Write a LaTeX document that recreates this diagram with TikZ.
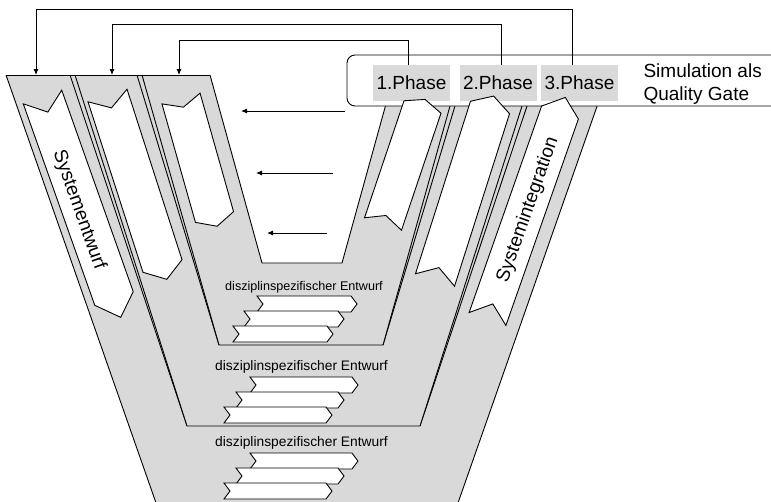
\documentclass[tikz,border=0pt]{standalone}
\usepackage{fontspec}
\setmainfont{Liberation Sans}
\usetikzlibrary{calc,arrows.meta}
\definecolor{vgray}{RGB}{217,217,217}
% white band arrow from tail (#1) to head (#2): half width, notch depth, tip length
\newcommand\bandarrow[5]{%
  \draw[arrowbox] ($(#1)!#3!90:(#2)$) -- ($(#1)!#4!(#2)$) -- ($(#1)!#3!-90:(#2)$)
    -- ($(#2)!#3!90:(#1)$) -- ($(#2)!-#5!(#1)$) -- ($(#2)!#3!-90:(#1)$) -- cycle;}
% horizontal chevron: left x, top y, width
\newcommand\flatchev[3]{%
  \draw[arrowbox] (#1,#2) -- ++(#3,0) -- ++(6,8) -- ++(-6,8) -- ++(-#3,0) -- ++(6,-8) -- cycle;}
\begin{document}
\begin{tikzpicture}[x=1pt,y=-1pt,
  vline/.style={line width=0.9pt, line join=miter},
  arrowbox/.style={fill=white, draw=black, line width=0.9pt, line join=miter},
  fb/.style={line width=0.9pt, -{Latex[length=6pt,width=5pt]}},
  bigtext/.style={font=\fontsize{19}{23}\selectfont},
  phase/.style={fill=vgray, minimum width=77pt, minimum height=36pt, inner sep=0pt, bigtext},
  dtext/.style={font=\fontsize{13.8}{16}\selectfont},
  dtextsmall/.style={font=\fontsize{12.6}{15}\selectfont}]
\useasboundingbox (0,0) rectangle (771,501);
\clip (0,0) rectangle (771,501);

% third (outer) V
\fill[vgray] (6,75) -- (162,520) -- (452,520) -- (608,75) -- cycle;
\draw[vline] (6,75) -- (162,520) -- (452,520) -- (608,75);
\draw[vline] (70,75) -- (187,426);
\draw[vline] (537.4,75) -- (420,426);
% second V
\fill[vgray] (75,75) -- (187,426) -- (420,426) -- (531.9,75) -- cycle;
\draw[vline] (75,75) -- (187,426) -- (420,426) -- (531.9,75);
\draw[vline] (137,75) -- (219,345);
\draw[vline] (464.3,75) -- (383,345);
% first (inner) V with its open centre
\fill[vgray] (142,75) -- (219,345) -- (383,345) -- (458.7,75) -- cycle;
\draw[vline] (142,75) -- (219,345) -- (383,345) -- (458.7,75);
\fill[white] (210,75) -- (262,263) -- (342,263) -- (394,75) -- cycle;
\draw[vline] (210,75) -- (262,263) -- (342,263) -- (394,75);
\draw[vline] (6,75) -- (210,75);

% arrows in the open centre
\coordinate (h1s) at (345,111); \coordinate (h1e) at (241,111);
\coordinate (h2s) at (333,173); \coordinate (h2e) at (256,173);
\coordinate (h3s) at (327,233); \coordinate (h3e) at (267,233);
\draw[fb] (h1s) -- (h1e);
\draw[fb] (h2s) -- (h2e);
\draw[fb] (h3s) -- (h3e);

% design arrows on the left arms
\coordinate (e1a) at (42.5,97);   \coordinate (e1b) at (114,298.5);
\coordinate (e2a) at (107.5,95.5); \coordinate (e2b) at (162.5,266);
\coordinate (e3a) at (181,98.5);  \coordinate (e3b) at (214.5,217);
\bandarrow{e1a}{e1b}{20.4pt}{16pt}{20pt}
\bandarrow{e2a}{e2b}{20.5pt}{13pt}{14pt}
\bandarrow{e3a}{e3b}{19.8pt}{9pt}{9.6pt}
\node[bigtext, rotate=-70.5] (entwurf) at (79,210) {Systementwurf};

% discipline-specific design steps
\node[dtextsmall] (d1) at (304,287) {disziplinspezifischer Entwurf};
\flatchev{257}{296}{94}
\flatchev{244}{311}{94}
\flatchev{233}{326}{94}
\node[dtext] (d2) at (301.5,367) {disziplinspezifischer Entwurf};
\flatchev{250}{377}{102}
\flatchev{236}{392}{102}
\flatchev{224}{407}{102}
\node[dtext] (d3) at (301.5,443) {disziplinspezifischer Entwurf};
\flatchev{250}{453}{102}
\flatchev{236}{468}{102}
\flatchev{224}{483}{102}

% quality gate bar
\draw[vline, fill=white, rounded corners=8pt] (347,55) rectangle (800,106);
\node[phase] (p1) at (411.5,83) {1.Phase};
\node[phase] (p2) at (498,83) {2.Phase};
\node[phase] (p3) at (579.5,83) {3.Phase};
\node[bigtext, align=left, anchor=west] (qg) at (640,84) {Simulation als\\Quality Gate};

% integration arrows on the right arms
\coordinate (i1a) at (383,224);   \coordinate (i1b) at (422.5,107);
\coordinate (i2a) at (435,280);   \coordinate (i2b) at (490,107.5);
\coordinate (i3a) at (487.5,319); \coordinate (i3b) at (560,112.5);
\bandarrow{i1a}{i1b}{19.5pt}{9pt}{8pt}
\bandarrow{i2a}{i2b}{20.5pt}{13pt}{12pt}
\bandarrow{i3a}{i3b}{19.5pt}{16pt}{16pt}
\node[bigtext, rotate=70.6] (integ) at (528,210) {Systemintegration};

% feedback from each phase to the start of its V
\coordinate (t1) at (179,75); \coordinate (k1) at (408,40);
\coordinate (t2) at (112,75); \coordinate (k2) at (501,24);
\coordinate (t3) at (36,75);  \coordinate (k3) at (572,9);
\draw[fb] (p1.north -| k1) -- (k1) -| (t1);
\draw[fb] (p2.north -| k2) -- (k2) -| (t2);
\draw[fb] (p3.north -| k3) -- (k3) -| (t3);
\end{tikzpicture}
\end{document}
